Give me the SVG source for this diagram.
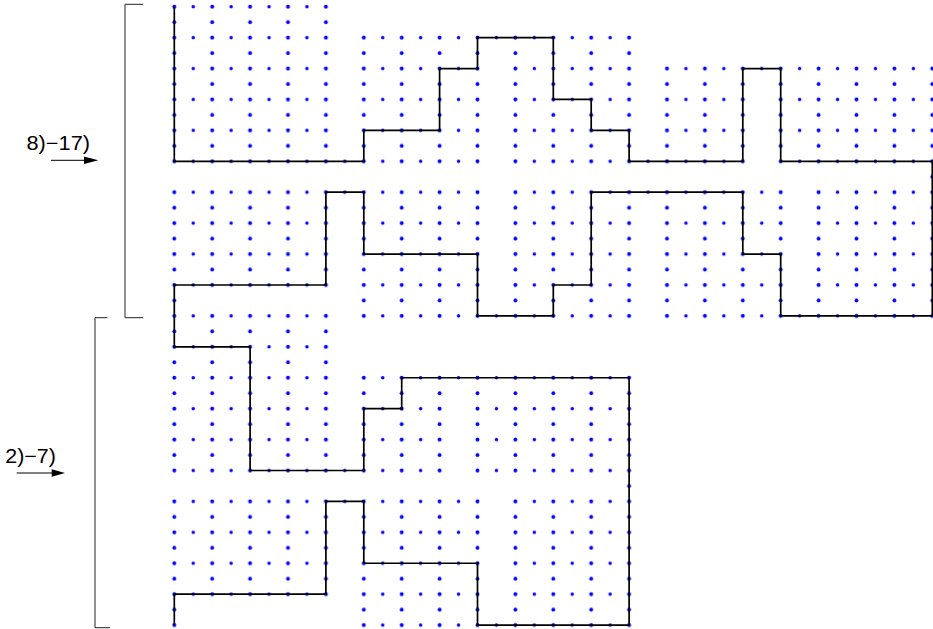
<svg xmlns="http://www.w3.org/2000/svg" width="933" height="629" viewBox="0 0 933 629">
<style>
.lbl{font-family:"Liberation Sans",Arial,Helvetica,sans-serif;font-size:20px;fill:#000}
.brk{fill:none;stroke:#222;stroke-width:1}
.arr{stroke:#000;stroke-width:1}
.dots rect{fill:url(#lat)}
</style>
<defs>
<pattern id="lat" patternUnits="userSpaceOnUse" x="164.825" y="-1.03" width="37.9" height="30.92">
<circle cx="9.475" cy="7.73" r="2" fill="#0000ff"/>
<circle cx="28.425" cy="7.73" r="1.75" fill="#0000ff"/>
<circle cx="9.475" cy="23.19" r="1.9" fill="#0000ff"/>
</pattern>
</defs>
<rect width="933" height="629" fill="#fff"/>
<g id="lattice" class="dots">
<rect x="164.825" y="-1.03" width="170.55" height="170.06"/>
<rect x="335.375" y="153.57" width="18.95" height="15.46"/>
<rect x="354.325" y="29.89" width="284.25" height="30.92"/>
<rect x="354.325" y="60.81" width="132.65" height="108.22"/>
<rect x="505.925" y="60.81" width="132.65" height="108.22"/>
<rect x="638.575" y="153.57" width="18.95" height="15.46"/>
<rect x="657.525" y="60.81" width="94.75" height="108.22"/>
<rect x="752.275" y="60.81" width="18.95" height="15.46"/>
<rect x="771.225" y="60.81" width="170.55" height="108.22"/>
<rect x="922.825" y="169.03" width="18.95" height="15.46"/>
<rect x="164.825" y="184.49" width="170.55" height="108.22"/>
<rect x="164.825" y="292.71" width="18.95" height="15.46"/>
<rect x="335.375" y="184.49" width="18.95" height="15.46"/>
<rect x="354.325" y="184.49" width="132.65" height="139.14"/>
<rect x="486.975" y="308.17" width="18.95" height="15.46"/>
<rect x="505.925" y="184.49" width="132.65" height="139.14"/>
<rect x="638.575" y="184.49" width="18.95" height="15.46"/>
<rect x="657.525" y="184.49" width="132.65" height="139.14"/>
<rect x="790.175" y="308.17" width="18.95" height="15.46"/>
<rect x="809.125" y="184.49" width="132.65" height="139.14"/>
<rect x="164.825" y="308.17" width="170.55" height="170.06"/>
<rect x="164.825" y="493.69" width="170.55" height="108.22"/>
<rect x="164.825" y="601.91" width="18.95" height="30.92"/>
<rect x="335.375" y="462.77" width="18.95" height="15.46"/>
<rect x="335.375" y="493.69" width="18.95" height="15.46"/>
<rect x="354.325" y="370.01" width="94.75" height="108.22"/>
<rect x="449.075" y="370.01" width="18.95" height="15.46"/>
<rect x="468.025" y="370.01" width="170.55" height="108.22"/>
<rect x="619.625" y="478.23" width="18.95" height="15.46"/>
<rect x="354.325" y="493.69" width="132.65" height="139.14"/>
<rect x="486.975" y="617.37" width="18.95" height="15.46"/>
<rect x="505.925" y="493.69" width="132.65" height="139.14"/>
</g>
<g id="connectors">
<path id="walk" fill="none" stroke="#000" stroke-width="1.7" stroke-linejoin="miter" d="M174.3 6.7V161.3H363.8V130.38H439.6V68.54H477.5V37.62H553.3V99.46H591.2V130.38H629.1V161.3H742.8V68.54H780.7V161.3H932.3V315.9H780.7V254.06H742.8V192.22H591.2V284.98H553.3V315.9H477.5V254.06H363.8V192.22H325.9V284.98H174.3V346.82H250.1V470.5H363.8V408.66H401.7V377.74H629.1V625.1H477.5V563.26H363.8V501.42H325.9V594.18H174.3V625.1"/>
</g>
<g id="bracket-upper">
<polyline class="brk" points="143.3,4.3 125,4.3 125,317.7 143.3,317.7"/>
</g>
<g id="bracket-lower">
<polyline class="brk" points="107.3,317.7 95,317.7 95,627.7 110,627.7"/>
</g>
<g id="label-8-17">
<text class="lbl" x="26.5" y="150" textLength="63.5" lengthAdjust="spacingAndGlyphs">8)−17)</text>
<line class="arr" x1="51" y1="160.3" x2="86" y2="160.3"/>
<polygon points="84,156.6 98.3,160.3 84,164" fill="#000"/>
</g>
<g id="label-2-7">
<text class="lbl" x="5.3" y="462.7" textLength="50.5" lengthAdjust="spacingAndGlyphs">2)−7)</text>
<line class="arr" x1="16.7" y1="473" x2="54" y2="473"/>
<polygon points="51.7,469.3 65,473 51.7,476.7" fill="#000"/>
</g>
</svg>
